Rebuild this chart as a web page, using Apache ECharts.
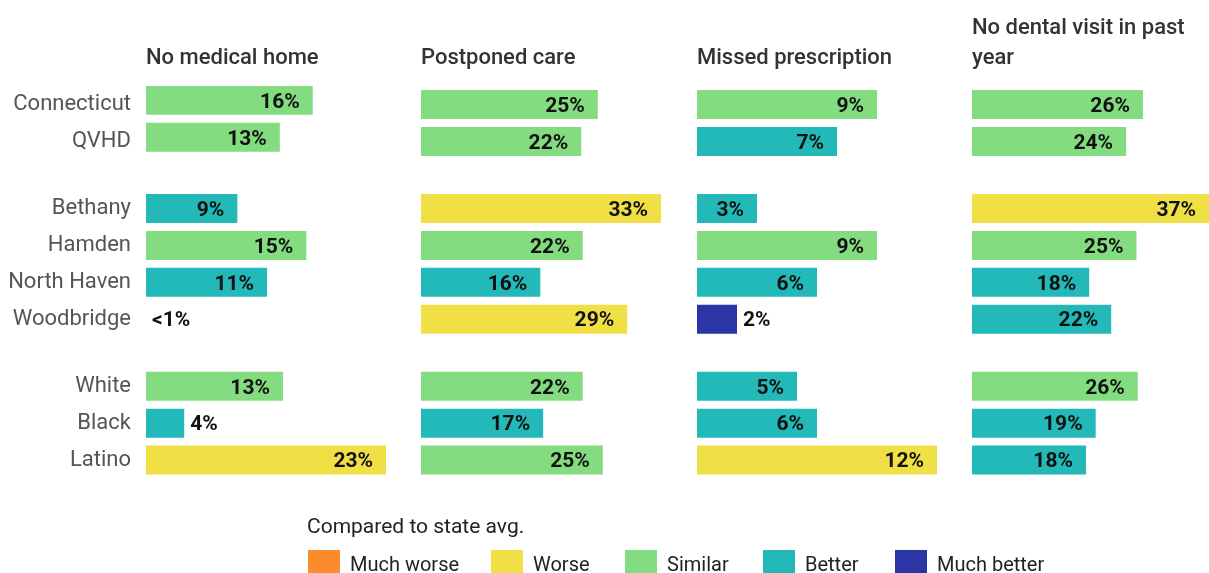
<!DOCTYPE html>
<html>
<head>
<meta charset="utf-8">
<script src="https://cdn.jsdelivr.net/npm/echarts@6/dist/echarts.min.js"></script>
<style>
  html, body { margin: 0; padding: 0; background: #fff; }
  #main { width: 1209px; height: 573px; }
</style>
</head>
<body>
<div id="main"></div>
<script>
// rows, split in three groups (state/region, towns, race/ethnicity)
const groups = [
    ['Connecticut', 'QVHD'],
    ['Bethany', 'Hamden', 'North Haven', 'Woodbridge'],
    ['White', 'Black', 'Latino']
]

const panelTitles = ['No medical home', 'Postponed care', 'Missed prescription', 'No dental visit in past\nyear']

// values (%), in row order
const noMedicalHome = [15.7, 12.6, 8.6, 15.1, 11.4, 0, 12.9, 3.6, 22.6]
const postponedCare = [24.6, 22.3, 33.4, 22.5, 16.6, 28.7, 22.5, 17.0, 25.3]
const missedPrescription = [9, 7, 3, 9, 6, 2, 5, 6, 12]
const noDentalVisit = [26.4, 23.8, 36.6, 25.4, 18.1, 21.5, 25.6, 19.1, 17.6]

// printed labels
const noMedicalHomeLabels = ['16%', '13%', '9%', '15%', '11%', '<1%', '13%', '4%', '23%']
const postponedCareLabels = ['25%', '22%', '33%', '22%', '16%', '29%', '22%', '17%', '25%']
const missedPrescriptionLabels = ['9%', '7%', '3%', '9%', '6%', '2%', '5%', '6%', '12%']
const noDentalVisitLabels = ['26%', '24%', '37%', '25%', '18%', '22%', '26%', '19%', '18%']

// compared to state avg.
const noMedicalHomeRating = ['Similar', 'Similar', 'Better', 'Similar', 'Better', 'Better', 'Similar', 'Better', 'Worse']
const postponedCareRating = ['Similar', 'Similar', 'Worse', 'Similar', 'Better', 'Worse', 'Similar', 'Better', 'Similar']
const missedPrescriptionRating = ['Similar', 'Better', 'Better', 'Similar', 'Better', 'Much better', 'Better', 'Better', 'Worse']
const noDentalVisitRating = ['Similar', 'Similar', 'Worse', 'Similar', 'Better', 'Better', 'Similar', 'Better', 'Better']

const ratingNames = ['Much worse', 'Worse', 'Similar', 'Better', 'Much better']
const ratingColors = {
    'Much worse': '#FB8C2D',
    'Worse': '#F0E046',
    'Similar': '#84DC80',
    'Better': '#23B9B9',
    'Much better': '#2A35A6'
}

const panelValues = [noMedicalHome, postponedCare, missedPrescription, noDentalVisit]
const panelLabels = [noMedicalHomeLabels, postponedCareLabels, missedPrescriptionLabels, noDentalVisitLabels]
const panelRatings = [noMedicalHomeRating, postponedCareRating, missedPrescriptionRating, noDentalVisitRating]

// layout
const panelLeft = [146, 421, 697, 972]
const barSpan = 240
const rowPitch = 36.9
const groupFirstRow = [104.5, 208.5, 386.3]
const legendX = [308, 491, 625, 763, 895]

let myChart = echarts.init(document.getElementById('main'))

let grids = [], xAxes = [], yAxes = [], series = [], titles = []

panelTitles.forEach((t, p) => {
    const lines = t.split('\n').length
    titles.push({
        text: t,
        left: panelLeft[p] - 5,
        top: lines > 1 ? 8 : 38,
        textStyle: { fontFamily: 'Roboto', fontWeight: 500, fontSize: 22, lineHeight: 30, color: '#333' }
    })
    const vals = panelValues[p]
    const maxVal = Math.max(...vals)
    let offset = 0
    groups.forEach((rows, g) => {
        const idx = grids.length
        grids.push({
            left: panelLeft[p],
            width: barSpan,
            top: groupFirstRow[g] - rowPitch / 2,
            height: rows.length * rowPitch
        })
        xAxes.push({ gridIndex: idx, type: 'value', min: 0, max: maxVal, show: false })
        yAxes.push({
            gridIndex: idx,
            type: 'category',
            inverse: true,
            data: rows,
            axisLine: { show: false },
            axisTick: { show: false },
            axisLabel: {
                show: p === 0,
                margin: 15,
                fontFamily: 'Roboto',
                fontSize: 22,
                color: '#555',
                padding: [4, 0, 0, 0]
            }
        })
        const items = rows.map((r, i) => {
            const k = offset + i
            const px = vals[k] / maxVal * barSpan
            const inside = px > 50
            return {
                value: vals[k],
                itemStyle: { color: ratingColors[panelRatings[p][k]] },
                label: {
                    show: true,
                    position: inside ? 'insideRight' : 'right',
                    distance: inside ? 13 : 6,
                    formatter: panelLabels[p][k]
                }
            }
        })
        series.push({
            type: 'bar',
            xAxisIndex: idx,
            yAxisIndex: idx,
            barWidth: 29,
            silent: true,
            label: {
                fontFamily: 'Roboto',
                fontWeight: 'bold',
                fontSize: 21,
                color: '#111',
                offset: [0, 2]
            },
            data: items
        })
        offset += rows.length
    })
})

// empty series only for the legend swatches
ratingNames.forEach(n => {
    series.push({ type: 'bar', name: n, xAxisIndex: 0, yAxisIndex: 0, data: [], itemStyle: { color: ratingColors[n] } })
})

titles.push({
    text: 'Compared to state avg.',
    left: 302,
    top: 512,
    textStyle: { fontFamily: 'Roboto', fontWeight: 'normal', fontSize: 21, color: '#222' }
})

const legends = ratingNames.map((n, i) => ({
    data: [n],
    left: legendX[i],
    top: 550,
    padding: 0,
    itemWidth: 32,
    itemHeight: 32,
    icon: 'rect',
    selectedMode: false,
    textStyle: { fontFamily: 'Roboto', fontSize: 20, color: '#222', padding: [0, 0, 6, 5] }
}))

const options = {
    animation: false,
    title: titles,
    legend: legends,
    grid: grids,
    xAxis: xAxes,
    yAxis: yAxes,
    series: series
}
myChart.setOption(options)
</script>
</body>
</html>
